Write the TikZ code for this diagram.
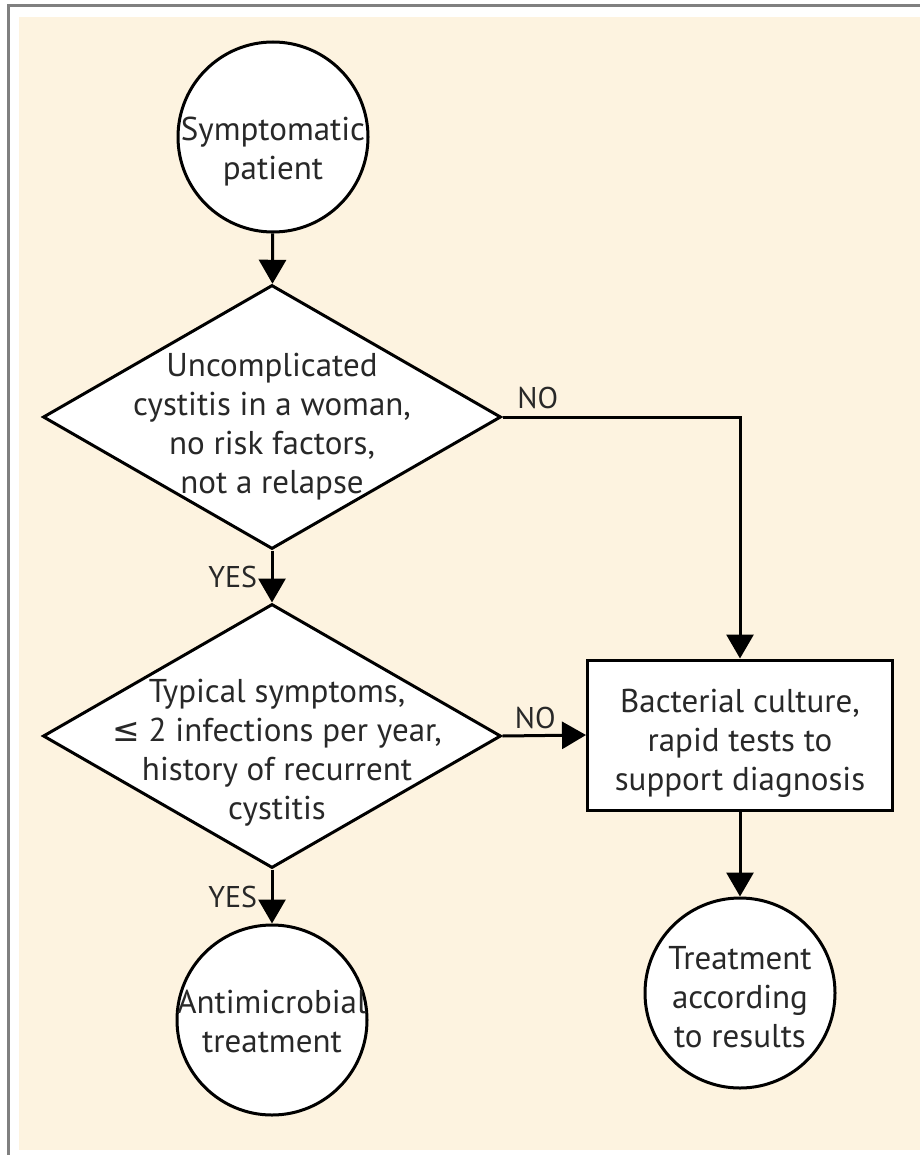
\documentclass[tikz,border=0pt]{standalone}
\usepackage{fontspec}
\setmainfont{PT Sans}
\newfontfamily\symfont{DejaVu Sans}
\usetikzlibrary{shapes.geometric,arrows.meta}
\definecolor{cream}{RGB}{253,243,224}
\definecolor{framegray}{RGB}{128,128,128}
\definecolor{inkgray}{RGB}{40,40,40}
\begin{document}
\begin{tikzpicture}[x=1pt,y=-1pt,
 every node/.style={font=\fontsize{33}{39}\selectfont, align=center, text=inkgray},
 circ/.style={circle,draw=black,line width=3pt,fill=white,minimum size=190pt,inner sep=0pt},
 dia/.style={diamond,draw=black,line width=3pt,fill=white,minimum width=458pt,minimum height=264pt,inner sep=0pt},
 boxn/.style={rectangle,draw=black,line width=3pt,fill=white,minimum width=305pt,minimum height=150pt},
 conn/.style={draw=black,line width=3pt,-{Triangle[length=24pt,width=27pt]}},
 lab/.style={font=\fontsize{30}{34}\selectfont}]
\useasboundingbox (0,0) rectangle (920,1155);
\fill[white] (0,0) rectangle (920,1155);
\fill[cream] (19,17) rectangle (920,1150);
\draw[framegray,line width=3pt] (8.5,1155) -- (8.5,5.5) -- (920,5.5);

\node[circ, label={[yshift=-15pt]center:Symptomatic\\patient}] (start) at (273,137) {};
\node[dia, label={[yshift=-10pt]center:Uncomplicated\\cystitis in a woman,\\no risk factors,\\not a relapse}] (d1) at (272,417) {};
\node[dia, label={[yshift=-17pt,xshift=5pt]center:Typical symptoms,\\{\symfont ≤} 2 infections per year,\\history of recurrent\\cystitis}] (d2) at (272,736) {};
\node[circ, label={[yshift=-1pt]center:Antimicrobial\\treatment}] (anti) at (272,1020) {};
\node[boxn, label={[yshift=-8pt]center:Bacterial culture,\\rapid tests to\\support diagnosis}] (cult) at (740,735) {};
\node[circ, label={[yshift=-4pt]center:Treatment\\according\\to results}] (res) at (740,993) {};

\draw[conn] (start) -- (d1);
\draw[conn] (d1) -- node[lab,left,xshift=-10pt]{YES} (d2);
\draw[conn] (d1.east) -| (cult.north) node[lab,pos=0,anchor=south west,xshift=10pt,yshift=3pt]{NO};
\draw[conn] (d2.east) -- node[lab,above,xshift=-9pt,yshift=2pt]{NO} (cult.west);
\draw[conn] (d2) -- node[lab,left,xshift=-10pt]{YES} (anti);
\draw[conn] (cult) -- (res);
\end{tikzpicture}
\end{document}
